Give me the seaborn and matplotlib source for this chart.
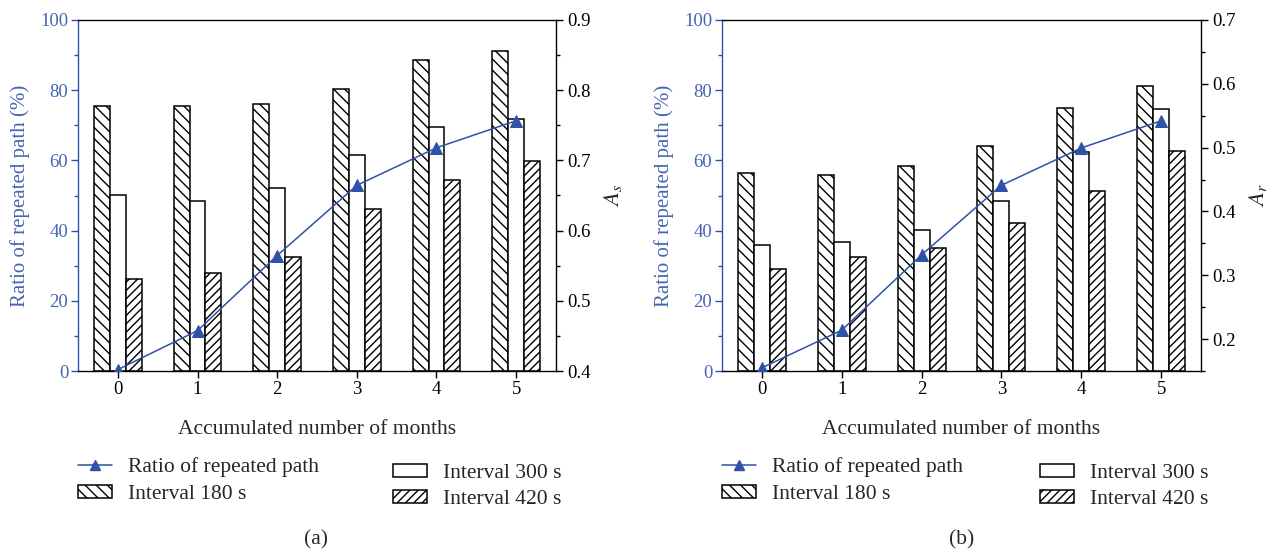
import numpy as np
import pandas as pd
import matplotlib
matplotlib.use("Agg")
import matplotlib.pyplot as plt
import seaborn as sns
from matplotlib.patches import Patch
from matplotlib.lines import Line2D
from matplotlib.ticker import MultipleLocator

# ---------------- data ----------------
months = [0, 1, 2, 3, 4, 5]
series_names = ["Interval 180 s", "Interval 300 s", "Interval 420 s"]

# panel (a)
a_180 = [75.6, 75.6, 76.2, 80.3, 88.6, 91.2]
a_300 = [50.1, 48.5, 52.2, 61.4, 69.4, 71.9]
a_420 = [26.2, 27.8, 32.6, 46.2, 54.4, 59.7]
a_ratio = [0.402, 0.4575, 0.5645, 0.6645, 0.718, 0.7565]

# panel (b)
b_180 = [56.4, 55.7, 58.3, 64.0, 75.0, 81.1]
b_300 = [35.9, 36.8, 40.1, 48.5, 62.5, 74.7]
b_420 = [29.2, 32.5, 35.0, 42.3, 51.2, 62.7]
b_ratio = [0.155, 0.214, 0.332, 0.441, 0.4995, 0.542]

line_label = "Ratio of repeated path"
xlabel = "Accumulated number of months"
ylabel = "Ratio of repeated path (%)"

# ---------------- style ----------------
sns.set_theme(style="white")
plt.rcParams["font.family"] = ["Liberation Serif", "DejaVu Serif"]
plt.rcParams["mathtext.fontset"] = "stix"
plt.rcParams["hatch.linewidth"] = 1.0

BLUE = "#2f52a8"
TBLUE = "#4564b3"
FT = 13.5     # tick labels
FL = 15.5     # labels / legend
hatches = ["\\\\\\", "", "////"]

W, H = 1275, 552
fig = plt.figure(figsize=(W / 100, H / 100), dpi=100)


def panel(rect, v180, v300, v420, ratio, rlim, rmajor, rlabel, tag, leg1_x, leg2_x, tag_x):
    ax = fig.add_axes(rect)
    df = pd.DataFrame({
        "month": months * 3,
        "value": v180 + v300 + v420,
        "interval": [series_names[0]] * 6 + [series_names[1]] * 6 + [series_names[2]] * 6,
    })
    sns.barplot(data=df, x="month", y="value", hue="interval", ax=ax,
                palette=["white"] * 3, width=0.6, edgecolor="black",
                linewidth=1.1, legend=False, saturation=1)
    for cont, h in zip(ax.containers, hatches):
        for p in cont:
            p.set_hatch(h)
            p.set_edgecolor("black")
    ax.set_xlim(-0.5, 5.5)
    ax.set_ylim(0, 100)
    ax.yaxis.set_major_locator(MultipleLocator(20))
    ax.yaxis.set_minor_locator(MultipleLocator(10))
    ax.tick_params(axis="y", which="major", direction="out", length=5, width=1,
                   colors=BLUE, labelcolor=TBLUE, labelsize=FT, pad=2, left=True)
    ax.tick_params(axis="y", which="minor", direction="out", length=3, width=1,
                   colors=BLUE, left=True)
    ax.tick_params(axis="x", which="major", direction="out", length=5, width=1,
                   colors="black", labelsize=FT, pad=2, bottom=True)
    ax.set_xlabel(xlabel, fontsize=FL)
    ax.xaxis.label.set_va("center")
    ax.xaxis.set_label_coords(0.5, (371 - 429) / 351)
    ax.set_ylabel(ylabel, fontsize=FL - 0.5, color=TBLUE)
    ax.yaxis.label.set_va("center")
    ax.yaxis.set_label_coords(-58 / 478, 0.5)
    for s in ["top", "bottom"]:
        ax.spines[s].set_color("black")
        ax.spines[s].set_linewidth(1.0)
    ax.spines["left"].set_color(BLUE)
    ax.spines["left"].set_linewidth(1.0)
    ax.spines["right"].set_visible(False)

    ax2 = ax.twinx()
    sns.lineplot(x=months, y=ratio, ax=ax2, color=BLUE, linewidth=1.1,
                 marker="^", markersize=8, markeredgecolor=BLUE,
                 markerfacecolor=BLUE)
    ax2.set_ylim(*rlim)
    ax2.yaxis.set_major_locator(MultipleLocator(rmajor))
    ax2.yaxis.set_minor_locator(MultipleLocator(rmajor / 2))
    ax2.tick_params(axis="y", which="major", direction="out", length=5, width=1,
                    colors="black", labelsize=FT, pad=3, right=True)
    ax2.tick_params(axis="y", which="minor", direction="out", length=3, width=1,
                    colors="black", right=True)
    ax2.set_ylabel(rlabel, fontsize=FL + 1)
    ax2.yaxis.label.set_va("center")
    ax2.yaxis.set_label_coords(1 + 57 / 478, 0.5)
    for s in ["left", "top", "bottom"]:
        ax2.spines[s].set_visible(False)
    ax2.spines["right"].set_color("black")
    ax2.spines["right"].set_linewidth(1.0)
    ax2.grid(False)
    ax.grid(False)
    ax2.set_xlim(-0.5, 5.5)

    h_line = Line2D([], [], color=BLUE, linewidth=1.1, marker="^", markersize=7,
                    markerfacecolor=BLUE, markeredgecolor=BLUE)
    h180 = Patch(facecolor="white", edgecolor="black", hatch=hatches[0], linewidth=1.1)
    h300 = Patch(facecolor="white", edgecolor="black", hatch=hatches[1], linewidth=1.1)
    h420 = Patch(facecolor="white", edgecolor="black", hatch=hatches[2], linewidth=1.1)
    common = dict(frameon=False, fontsize=FL, loc="upper left", borderpad=0,
                  borderaxespad=0, handlelength=1.6, handleheight=0.55,
                  handletextpad=0.7)
    fig.legend([h_line, h180], [line_label, series_names[0]],
               bbox_to_anchor=(leg1_x, 1 - 457 / H), labelspacing=0.39, **common)
    fig.legend([h300, h420], [series_names[1], series_names[2]],
               bbox_to_anchor=(leg2_x, 1 - 464 / H), labelspacing=0.3, **common)
    fig.text(tag_x, 1 - 540 / H, tag, ha="center", va="center", fontsize=FL)
    return ax, ax2


top, bot = 20, 371
panel([78 / W, 1 - bot / H, (556 - 78) / W, (bot - top) / H],
      a_180, a_300, a_420, a_ratio, (0.4, 0.9), 0.1, r"$A_s$", "(a)",
      78 / W, 393 / W, 316 / W)
panel([722 / W, 1 - bot / H, (1201 - 722) / W, (bot - top) / H],
      b_180, b_300, b_420, b_ratio, (0.15, 0.7), 0.1, r"$A_r$", "(b)",
      722 / W, 1040 / W, 962 / W)

fig.savefig("out.png", dpi=100)
